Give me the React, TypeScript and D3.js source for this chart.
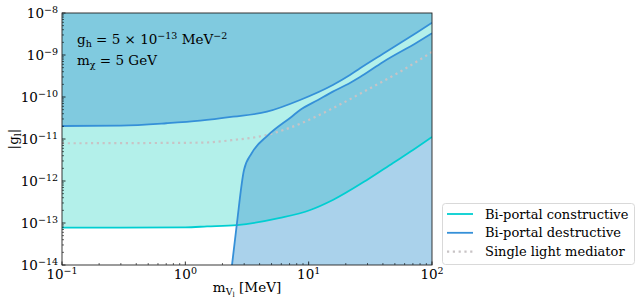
import React from "react";
import * as d3 from "d3";

const W = 644;
const H = 305;
const margin = { left: 62, right: 212, top: 13, bottom: 40 };
const FONT = "DejaVu Serif, Liberation Serif, serif";

// bi-portal, constructive interference (lower edge of excluded region)
const consMass = [0.1, 0.3, 1, 1.5, 2.62, 5.86, 10.3, 15.7, 29.7, 48.3, 70.1, 100];
const consCoupling = [7.73e-14, 7.75e-14, 7.9e-14, 8.3e-14, 8.95e-14, 1.32e-13, 2.04e-13, 3.53e-13, 1.06e-12, 2.69e-12, 5.47e-12, 1.12e-11];

// bi-portal, destructive: upper boundary of the allowed band
const destUpMass = [0.1, 0.3, 0.7, 1.32, 2.44, 4.59, 8.51, 15.7, 21.6, 26.1, 40.1, 75.5, 100];
const destUpCoupling = [2.04e-11, 2.09e-11, 2.37e-11, 2.73e-11, 3.4e-11, 4.47e-11, 8.49e-11, 1.93e-10, 3.34e-10, 4.82e-10, 1.07e-9, 3.45e-9, 5.87e-9];

// bi-portal, destructive: lower boundary of the allowed band
const destLoMass = [2.39, 2.61, 2.99, 3.45, 4.71, 7.28, 8.51, 11.9, 15.7, 21.6, 26.1, 40.1, 75.5, 100];
const destLoCoupling = [1e-14, 8.95e-14, 1.83e-12, 4.57e-12, 1.25e-11, 3.4e-11, 4.9e-11, 8.49e-11, 1.34e-10, 2.16e-10, 2.99e-10, 6.85e-10, 1.99e-9, 3.29e-9];

// single light mediator
const singleMass = [0.1, 1.32, 2.44, 4.59, 8.51, 15.7, 29.7, 55.1, 100];
const singleCoupling = [7.91e-12, 8.17e-12, 9.46e-12, 1.25e-11, 2.3e-11, 5.4e-11, 1.47e-10, 4.0e-10, 1.18e-9];

const xTickExp = [-1, 0, 1, 2];
const yTickExp = [-14, -13, -12, -11, -10, -9, -8];

const legendLabels = ["Bi-portal constructive", "Bi-portal destructive", "Single light mediator"];

const CYAN = "#00ced1";
const BLUE = "#3590d8";
const GREY = "#c8c3c5";

type Pt = [number, number];
const zip = (xs: number[], ys: number[]): Pt[] => xs.map((x, i) => [x, ys[i]]);

export default function App() {
  const x = d3.scaleLog().domain([0.1, 100]).range([margin.left, W - margin.right]);
  const y = d3.scaleLog().domain([1e-14, 1e-8]).range([H - margin.bottom, margin.top]);
  const [x0, x1] = x.range();
  const [yb, yt] = y.range();

  const line = d3
    .line<Pt>()
    .x((d) => x(d[0]))
    .y((d) => y(d[1]))
    .curve(d3.curveMonotoneX);
  const areaTop = d3
    .area<Pt>()
    .x((d) => x(d[0]))
    .y0(yt)
    .y1((d) => y(d[1]))
    .curve(d3.curveMonotoneX);

  const cons = zip(consMass, consCoupling);
  const up = zip(destUpMass, destUpCoupling);
  const lo = zip(destLoMass, destLoCoupling);
  const single = zip(singleMass, singleCoupling);

  const loPath = line(lo) + `L${x1},${yb}L${x(destLoMass[0])},${yb}Z`;

  const minors = (exps: number[]) => {
    const out: number[] = [];
    for (let e = exps[0]; e < exps[exps.length - 1]; e++) {
      for (let k = 2; k <= 9; k++) out.push(k * Math.pow(10, e));
    }
    return out;
  };

  const sup = (e: number) => (e < 0 ? "\u2212" + Math.abs(e) : String(e));

  return (
    <svg
      width={W}
      height={H}
      style={{ position: "absolute", left: 0, top: 0, background: "#fff" }}
      fontFamily={FONT}
    >
      <defs>
        <clipPath id="plotclip">
          <rect x={x0} y={yt} width={x1 - x0} height={yb - yt} />
        </clipPath>
      </defs>

      <g clipPath="url(#plotclip)">
        {/* constructive excluded region */}
        <path d={areaTop(cons) || ""} fill="#b3f0ea" />
        {/* destructive excluded regions */}
        <path d={areaTop(up) || ""} fill="rgb(66,155,211)" fillOpacity={0.45} />
        <path d={loPath} fill="rgb(66,155,211)" fillOpacity={0.45} />

        <path d={line(single) || ""} fill="none" stroke={GREY} strokeWidth={2.2} strokeDasharray="2.2,3.6" />
        <path d={line(cons) || ""} fill="none" stroke={CYAN} strokeWidth={1.8} />
        <path d={line(up) || ""} fill="none" stroke={BLUE} strokeWidth={1.8} />
        <path d={line(lo) || ""} fill="none" stroke={BLUE} strokeWidth={1.8} />
      </g>

      {/* ticks (pointing inward) */}
      <g stroke="#000" strokeWidth={0.8}>
        {xTickExp.map((e) => (
          <line key={"xm" + e} x1={x(Math.pow(10, e))} x2={x(Math.pow(10, e))} y1={yb} y2={yb - 3.5} />
        ))}
        {minors(xTickExp).map((v, i) => (
          <line key={"xn" + i} x1={x(v)} x2={x(v)} y1={yb} y2={yb - 2} strokeWidth={0.6} />
        ))}
        {yTickExp.map((e) => (
          <line key={"ym" + e} x1={x0} x2={x0 + 3.5} y1={y(Math.pow(10, e))} y2={y(Math.pow(10, e))} />
        ))}
        {minors(yTickExp).map((v, i) => (
          <line key={"yn" + i} x1={x0} x2={x0 + 2} y1={y(v)} y2={y(v)} strokeWidth={0.6} />
        ))}
      </g>

      <rect x={x0} y={yt} width={x1 - x0} height={yb - yt} fill="none" stroke="#222" strokeWidth={0.9} />

      {/* tick labels */}
      <g fontSize={13.5} fill="#000">
        {xTickExp.map((e) => (
          <text key={"xl" + e} x={x(Math.pow(10, e))} y={yb + 14} textAnchor="middle">
            10<tspan dy={-5.5} fontSize={9.5}>{sup(e)}</tspan>
          </text>
        ))}
        {yTickExp.map((e) => (
          <text key={"yl" + e} x={x0 - 4} y={y(Math.pow(10, e)) + 5} textAnchor="end">
            10<tspan dy={-5.5} fontSize={9.5}>{sup(e)}</tspan>
          </text>
        ))}
      </g>

      {/* axis labels */}
      <text x={(x0 + x1) / 2} y={H - 13} textAnchor="middle" fontSize={13.5}>
        m<tspan dy={3} fontSize={9.5}>V</tspan>
        <tspan dy={2} fontSize={7}>l</tspan>
        <tspan dy={-5}> [MeV]</tspan>
      </text>
      <text transform={`translate(18,${(yt + yb) / 2}) rotate(-90)`} textAnchor="middle" fontSize={13.5}>
        |g<tspan dy={3} fontSize={9.5}>l</tspan>
        <tspan dy={-3}>|</tspan>
      </text>

      {/* annotations */}
      <text x={77} y={44} fontSize={13.5}>
        g<tspan dy={3} fontSize={9.5}>h</tspan>
        <tspan dy={-3}> = 5 × 10</tspan>
        <tspan dy={-5.5} fontSize={9.5}>{"\u221213"}</tspan>
        <tspan dy={5.5}> MeV</tspan>
        <tspan dy={-5.5} fontSize={9.5}>{"\u22122"}</tspan>
      </text>
      <text x={77} y={65} fontSize={13.5}>
        m<tspan dy={3} fontSize={9.5}>χ</tspan>
        <tspan dy={-3}> = 5 GeV</tspan>
      </text>

      {/* legend */}
      <g>
        <rect x={442.5} y={203.5} width={192} height={61} rx={3} fill="#fff" fillOpacity={0.8} stroke="#d5d5d5" strokeWidth={0.9} />
        {legendLabels.map((lab, i) => {
          const ly = 214 + i * 18.8;
          const stroke = [CYAN, BLUE, GREY][i];
          return (
            <g key={lab}>
              <line
                x1={447}
                x2={473}
                y1={ly}
                y2={ly}
                stroke={stroke}
                strokeWidth={i === 2 ? 2.2 : 1.8}
                strokeDasharray={i === 2 ? "2.2,3.6" : undefined}
              />
              <text x={485} y={ly + 4.5} fontSize={13}>
                {lab}
              </text>
            </g>
          );
        })}
      </g>
    </svg>
  );
}
